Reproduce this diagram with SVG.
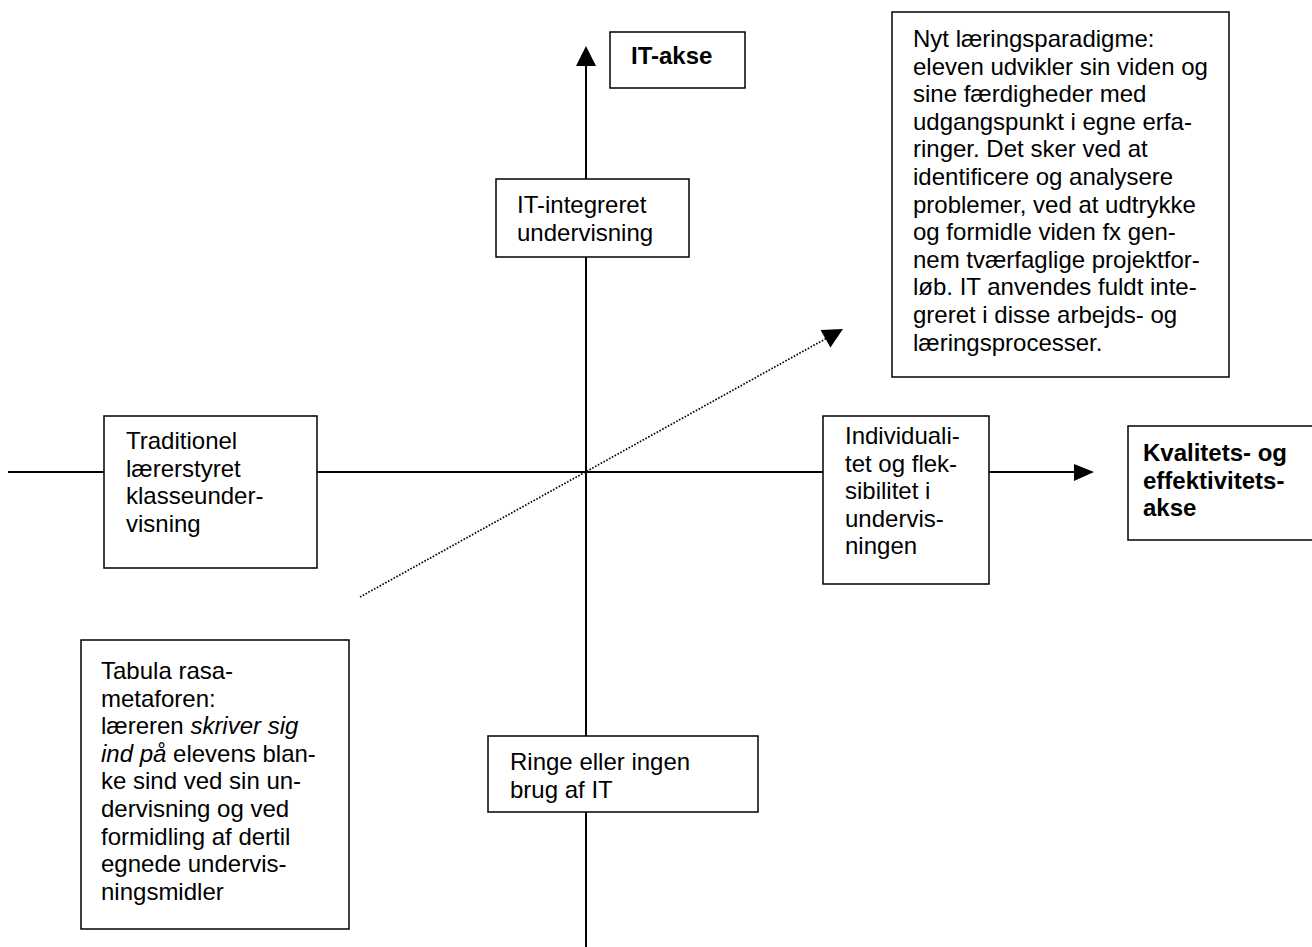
<svg xmlns="http://www.w3.org/2000/svg" width="1312" height="947" viewBox="0 0 1312 947">
<style>
.box{fill:#fff;stroke:#000;stroke-width:1.5}
.t{font-family:"Liberation Sans",Arial,sans-serif;font-size:24px;fill:#000}
.b{font-weight:bold}
.ax{stroke:#000;stroke-width:2;fill:none}
.dot{stroke:#000;stroke-width:1.7;fill:none;stroke-dasharray:1.6 1.6}
</style>
<rect width="1312" height="947" fill="#fff"/>
<g id="connectors">
<line class="ax" x1="586" y1="64" x2="586" y2="179"/>
<line class="ax" x1="586" y1="257" x2="586" y2="736"/>
<line class="ax" x1="586" y1="812" x2="586" y2="947"/>
<polygon points="586,46 576,66 596,66" fill="#000"/>
<line class="ax" x1="8" y1="472" x2="104" y2="472"/>
<line class="ax" x1="317" y1="472" x2="823" y2="472"/>
<line class="ax" x1="989" y1="472" x2="1076" y2="472"/>
<polygon points="1094,472 1074,464 1074,481" fill="#000"/>
<line class="dot" x1="360" y1="597" x2="827" y2="338"/>
<polygon points="843,329 820.6,330 830.4,347.4" fill="#000"/>
</g>
<g id="it-akse">
<rect class="box" x="610" y="32" width="135" height="56"/>
<text class="t b" x="631" y="64">IT-akse</text>
</g>
<g id="nyt-laeringsparadigme">
<rect class="box" x="892" y="12" width="337" height="365"/>
<text class="t" x="913" y="47">
<tspan x="913" y="47">Nyt læringsparadigme:</tspan>
<tspan x="913" y="74.6">eleven udvikler sin viden og</tspan>
<tspan x="913" y="102.2">sine færdigheder med</tspan>
<tspan x="913" y="129.8">udgangspunkt i egne erfa-</tspan>
<tspan x="913" y="157.4">ringer. Det sker ved at</tspan>
<tspan x="913" y="185">identificere og analysere</tspan>
<tspan x="913" y="212.6">problemer, ved at udtrykke</tspan>
<tspan x="913" y="240.2">og formidle viden fx gen-</tspan>
<tspan x="913" y="267.8">nem tværfaglige projektfor-</tspan>
<tspan x="913" y="295.4">løb. IT anvendes fuldt inte-</tspan>
<tspan x="913" y="323">greret i disse arbejds- og</tspan>
<tspan x="913" y="350.6">læringsprocesser.</tspan>
</text>
</g>
<g id="it-integreret">
<rect class="box" x="496" y="179" width="193" height="78"/>
<text class="t"><tspan x="517" y="213">IT-integreret</tspan><tspan x="517" y="240.6">undervisning</tspan></text>
</g>
<g id="traditionel">
<rect class="box" x="104" y="416" width="213" height="152"/>
<text class="t"><tspan x="126" y="449">Traditionel</tspan><tspan x="126" y="476.6">lærerstyret</tspan><tspan x="126" y="504.2">klasseunder-</tspan><tspan x="126" y="531.8">visning</tspan></text>
</g>
<g id="individualitet">
<rect class="box" x="823" y="416" width="166" height="168"/>
<text class="t"><tspan x="845" y="444">Individuali-</tspan><tspan x="845" y="471.6">tet og flek-</tspan><tspan x="845" y="499.2">sibilitet i</tspan><tspan x="845" y="526.8">undervis-</tspan><tspan x="845" y="554.4">ningen</tspan></text>
</g>
<g id="kvalitets-akse">
<rect class="box" x="1128" y="426" width="200" height="114"/>
<text class="t b"><tspan x="1143" y="461">Kvalitets- og</tspan><tspan x="1143" y="488.6">effektivitets-</tspan><tspan x="1143" y="516.2">akse</tspan></text>
</g>
<g id="tabula-rasa">
<rect class="box" x="81" y="640" width="268" height="289"/>
<text class="t"><tspan x="101" y="679">Tabula rasa-</tspan><tspan x="101" y="706.6">metaforen:</tspan><tspan x="101" y="734.2">læreren <tspan font-style="italic">skriver sig</tspan></tspan><tspan x="101" y="761.8"><tspan font-style="italic">ind på</tspan> elevens blan-</tspan><tspan x="101" y="789.4">ke sind ved sin un-</tspan><tspan x="101" y="817">dervisning og ved</tspan><tspan x="101" y="844.6">formidling af dertil</tspan><tspan x="101" y="872.2">egnede undervis-</tspan><tspan x="101" y="899.8">ningsmidler</tspan></text>
</g>
<g id="ringe">
<rect class="box" x="488" y="736" width="270" height="76"/>
<text class="t"><tspan x="510" y="770">Ringe eller ingen</tspan><tspan x="510" y="797.6">brug af IT</tspan></text>
</g>
</svg>
